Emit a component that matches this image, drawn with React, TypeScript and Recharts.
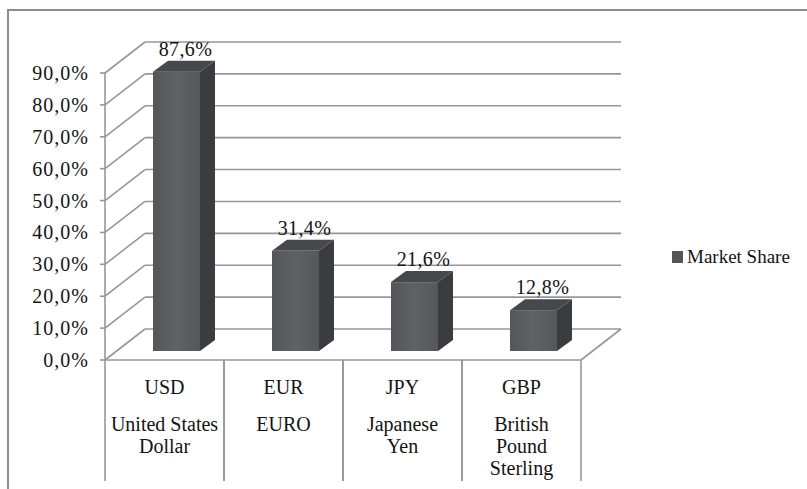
import { BarChart, Bar, XAxis, YAxis, CartesianGrid, Legend, LabelList } from 'recharts';

const currencyCodes = ['USD', 'EUR', 'JPY', 'GBP'];
const currencyNames = [['United States', 'Dollar'], ['EURO'], ['Japanese', 'Yen'], ['British', 'Pound', 'Sterling']];
const marketShare = [87.6, 31.4, 21.6, 12.8];
const shareTicks = [0, 10, 20, 30, 40, 50, 60, 70, 80, 90];

const data = currencyCodes.map((code, i) => ({ code, names: currencyNames[i], share: marketShare[i] }));

// 3d offsets: wall depth, bar front inset, bar depth
const DX = 40, DY = -31;
const FX = 12, FY = -9;
const BX = 15, BY = -11;
const GRID = '#979797';
const TEXT = '#141414';
const FONT = '"Liberation Serif", "Times New Roman", serif';
const fmt = (v: number) => v.toFixed(1).replace('.', ',') + '%';

function WallLine(props: any) {
  const { x1, x2, y1, index } = props;
  const floor = index === 0 || Math.abs(y1 - 360) < 2;
  return (
    <g key={`wall-${y1}`}>
      <line x1={x1} y1={y1} x2={x1 + DX} y2={y1 + DY} stroke={GRID} strokeWidth={1.6} />
      <line x1={x1 + DX} y1={y1 + DY} x2={x2 + DX} y2={y1 + DY} stroke={GRID} strokeWidth={1.6} />
      {floor && (
        <>
          <line x1={x1} y1={y1} x2={x2} y2={y1} stroke={GRID} strokeWidth={1.6} />
          <line x1={x2} y1={y1} x2={x2 + DX} y2={y1 + DY} stroke={GRID} strokeWidth={1.6} />
        </>
      )}
    </g>
  );
}

function Bar3D(props: any) {
  const { x, y, width, height } = props;
  if (!height) return null;
  const fx = x + FX, fy = y + FY, b = fy + height;
  return (
    <g>
      <defs>
        <linearGradient id="faceGrad" x1="0" y1="0" x2="1" y2="0">
          <stop offset="0%" stopColor="#55565a" />
          <stop offset="50%" stopColor="#606165" />
          <stop offset="100%" stopColor="#56575b" />
        </linearGradient>
      </defs>
      <rect x={fx} y={fy} width={width} height={height} fill="url(#faceGrad)" />
      <polygon
        points={`${fx + width},${fy} ${fx + width + BX},${fy + BY} ${fx + width + BX},${b + BY} ${fx + width},${b}`}
        fill="#3b3c40"
      />
      <polygon
        points={`${fx},${fy} ${fx + BX},${fy + BY} ${fx + width + BX},${fy + BY} ${fx + width},${fy}`}
        fill="#47484c"
      />
    </g>
  );
}

function ValueLabel(props: any) {
  const { x, y, width, value } = props;
  return (
    <text
      x={x + FX + width / 2 + 9}
      y={y + FY + BY - 5}
      textAnchor="middle"
      fontFamily={FONT}
      fontSize={20}
      letterSpacing={0.4}
      fill={TEXT}
    >
      {fmt(value)}
    </text>
  );
}

function ShareTick(props: any) {
  const { y, payload } = props;
  return (
    <text x={89} y={y + 7} textAnchor="end" fontFamily={FONT} fontSize={20} letterSpacing={1} fill={TEXT}>
      {fmt(payload.value)}
    </text>
  );
}

function CurrencyTick(props: any) {
  const { x, payload, index } = props;
  const half = 119 / 2;
  const names = currencyNames[index] || [];
  return (
    <g>
      <line x1={x - half} y1={360} x2={x - half} y2={481} stroke={GRID} strokeWidth={1.6} />
      <line x1={x + half} y1={360} x2={x + half} y2={481} stroke={GRID} strokeWidth={1.6} />
      <text x={x} y={394} textAnchor="middle" fontFamily={FONT} fontSize={20} fill={TEXT}>
        {payload.value}
      </text>
      {names.map((line, i) => (
        <text key={line} x={x} y={431 + i * 22} textAnchor="middle" fontFamily={FONT} fontSize={20} fill={TEXT}>
          {line}
        </text>
      ))}
    </g>
  );
}

function LegendBox() {
  return (
    <div style={{ display: 'flex', alignItems: 'center', fontFamily: FONT, fontSize: 19, color: TEXT, whiteSpace: 'nowrap' }}>
      <span style={{ display: 'inline-block', width: 11, height: 12, background: '#55565a', marginRight: 4 }} />
      Market Share
    </div>
  );
}

export default function App() {
  return (
    <div style={{ position: 'absolute', left: 0, top: 0, width: 807, height: 489, overflow: 'hidden', background: '#fff' }}>
      <div
        style={{
          position: 'absolute',
          left: 7,
          top: 9,
          width: 900,
          height: 600,
          border: '2px solid #8c8c8c',
        }}
      />
      <BarChart
        width={807}
        height={489}
        data={data}
        margin={{ top: 73, right: 226, left: 0, bottom: 0 }}
        style={{ position: 'absolute', left: 0, top: 0 }}
      >
        <CartesianGrid vertical={false} horizontal={(p: any) => <WallLine {...p} />} />
        <YAxis
          width={105}
          domain={[0, 90]}
          ticks={shareTicks}
          interval={0}
          axisLine={{ stroke: GRID, strokeWidth: 1.6 }}
          tickLine={{ stroke: GRID, strokeWidth: 1.6 }}
          tickSize={5}
          tick={<ShareTick />}
        />
        <XAxis dataKey="code" height={129} axisLine={false} tickLine={false} interval={0} tick={<CurrencyTick />} />
        <Legend
          layout="vertical"
          verticalAlign="middle"
          align="center"
          content={<LegendBox />}
          wrapperStyle={{ left: 672, top: 246, width: 130 }}
        />
        <Bar dataKey="share" barSize={47} shape={<Bar3D />} isAnimationActive={false}>
          <LabelList dataKey="share" content={<ValueLabel />} />
        </Bar>
      </BarChart>
    </div>
  );
}
